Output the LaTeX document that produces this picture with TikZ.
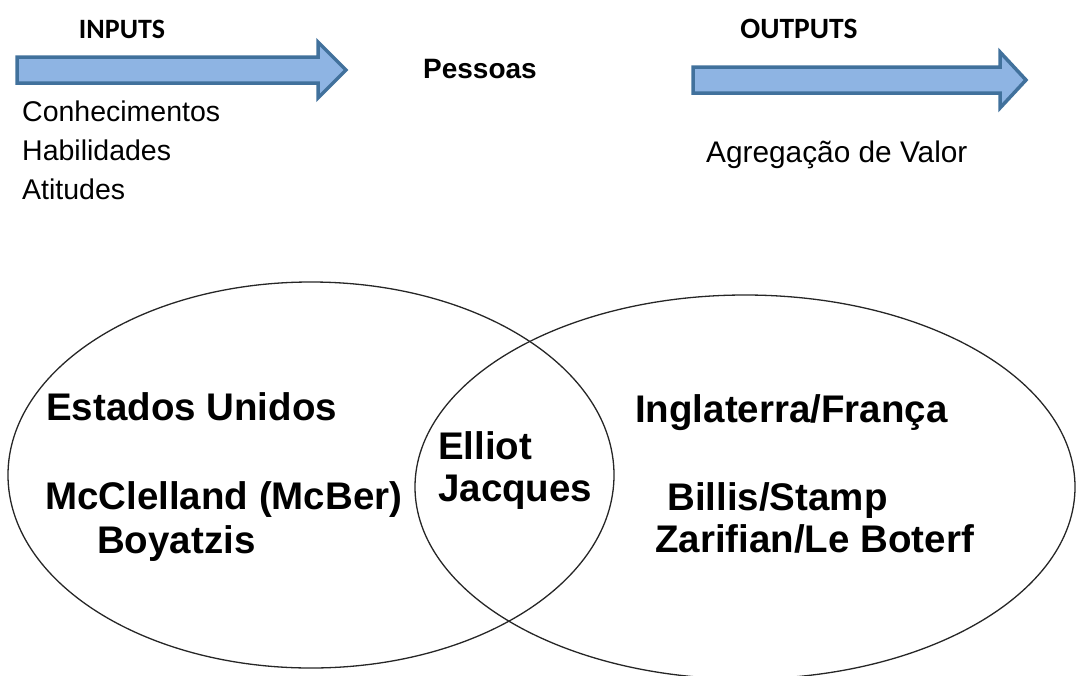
\documentclass[tikz,border=0pt]{standalone}
\usepackage{fontspec}
\setmainfont{Liberation Sans}
\newfontfamily\calib{Carlito}
\begin{document}
\begin{tikzpicture}[x=1pt,y=-1pt,
  bigarrow/.style={draw=arrowline,fill=arrowfill,line width=3.5pt,line join=miter},
  venn/.style={draw=black!85,line width=1.3pt},
  head/.style={inner sep=0pt,anchor=base,font=\calib\bfseries\fontsize{28}{28}\selectfont},
  plain/.style={inner sep=0pt,anchor=base west,font=\fontsize{28.5}{28.5}\selectfont},
  big/.style={inner sep=0pt,anchor=base west,font=\bfseries\fontsize{38.5}{38.5}\selectfont}]
\definecolor{arrowfill}{HTML}{8EB4E3}
\definecolor{arrowline}{HTML}{41719C}
\useasboundingbox (0,0) rectangle (1078,675);
% arrows
\draw[bigarrow] (17,57) -- (318,57) -- (318,42) -- (346,70) -- (318,98) -- (318,83) -- (17,83) -- cycle;
\draw[bigarrow] (693,67) -- (1000,67) -- (1000,52) -- (1026,80) -- (1000,108) -- (1000,93) -- (693,93) -- cycle;
% headings
\node[head] (inputs) at (122,38) {INPUTS};
\node[head,font=\calib\bfseries\fontsize{29.5}{29.5}\selectfont] (outputs) at (799,38) {OUTPUTS};
\node[inner sep=0pt,anchor=base,font=\bfseries\fontsize{28}{28}\selectfont] (pessoas) at (480,78) {Pessoas};
% input list
\node[plain] (conh) at (22,121) {Conhecimentos};
\node[plain] (habil) at (22,160) {Habilidades};
\node[plain] (atit) at (22,199) {Atitudes};
\node[plain,font=\fontsize{29.8}{29.8}\selectfont] (agreg) at (706,162) {Agregação de Valor};
% venn
\draw[venn] (311,475) ellipse [x radius=303, y radius=193];
\draw[venn] (745,487) ellipse [x radius=330, y radius=192];
% texts
\node[big] (eua) at (46,420) {Estados Unidos};
\node[big] (mcc) at (45,509) {McClelland (McBer)};
\node[big] (boy) at (97,553) {Boyatzis};
\node[big] (elliot) at (438,459) {Elliot};
\node[big] (jacques) at (438,501) {Jacques};
\node[big] (ingl) at (635,422) {Inglaterra/França};
\node[big] (billis) at (667,510) {Billis/Stamp};
\node[big] (zarif) at (655,552) {Zarifian/Le Boterf};
\end{tikzpicture}
\end{document}
